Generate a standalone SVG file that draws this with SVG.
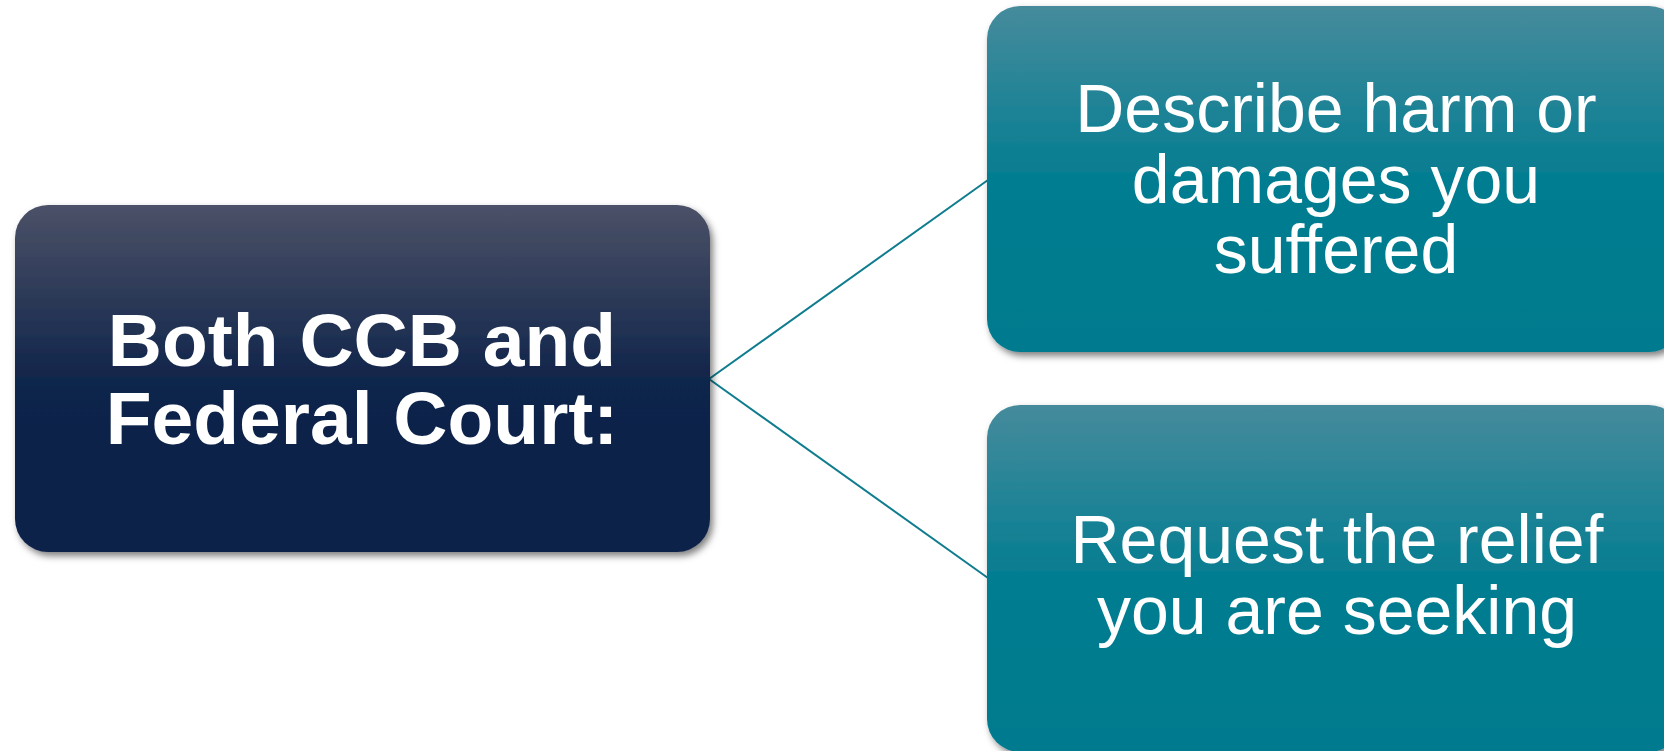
<svg xmlns="http://www.w3.org/2000/svg" width="1664" height="751" viewBox="0 0 1664 751">
  <defs>
    <linearGradient id="gNavy" x1="0" y1="0" x2="0" y2="1">
      <stop offset="0" stop-color="#4b5167"/>
      <stop offset="0.5" stop-color="#11254b"/>
      <stop offset="1" stop-color="#0c2149"/>
    </linearGradient>
    <linearGradient id="gTeal" x1="0" y1="0" x2="0" y2="1">
      <stop offset="0" stop-color="#458b9c"/>
      <stop offset="0.5" stop-color="#047d91"/>
      <stop offset="1" stop-color="#007a8e"/>
    </linearGradient>
    <filter id="shadow" x="-10%" y="-10%" width="120%" height="125%">
      <feDropShadow dx="3" dy="4" stdDeviation="3.5" flood-color="#000" flood-opacity="0.5"/>
    </filter>
  </defs>
  <style>
    .conn { stroke: #0f7d8e; stroke-width: 2; fill: none; }
    .t { fill: #ffffff; font-family: "Liberation Sans", Arial, sans-serif; text-anchor: middle; }
    .bold { font-weight: bold; font-size: 75px; }
    .reg { font-size: 68px; }
  </style>
  <rect width="1664" height="751" fill="#ffffff"/>
  <g id="connectors">
    <line class="conn" x1="709" y1="379" x2="988" y2="180"/>
    <line class="conn" x1="709" y1="379" x2="988" y2="578"/>
  </g>
  <g id="node-main">
    <rect x="15" y="205" width="695" height="347" rx="33" ry="33" fill="url(#gNavy)" filter="url(#shadow)"/>
    <text class="t bold" x="362" y="366">Both CCB and</text>
    <text class="t bold" x="362" y="444">Federal Court:</text>
  </g>
  <g id="node-harm">
    <rect x="987" y="6" width="695" height="346" rx="33" ry="33" fill="url(#gTeal)" filter="url(#shadow)"/>
    <text class="t reg" x="1336" y="132">Describe harm or</text>
    <text class="t reg" x="1336" y="203">damages you</text>
    <text class="t reg" x="1336" y="273">suffered</text>
  </g>
  <g id="node-relief">
    <rect x="987" y="405" width="695" height="347" rx="33" ry="33" fill="url(#gTeal)" filter="url(#shadow)"/>
    <text class="t reg" x="1337" y="563">Request the relief</text>
    <text class="t reg" x="1337" y="634">you are seeking</text>
  </g>
</svg>
